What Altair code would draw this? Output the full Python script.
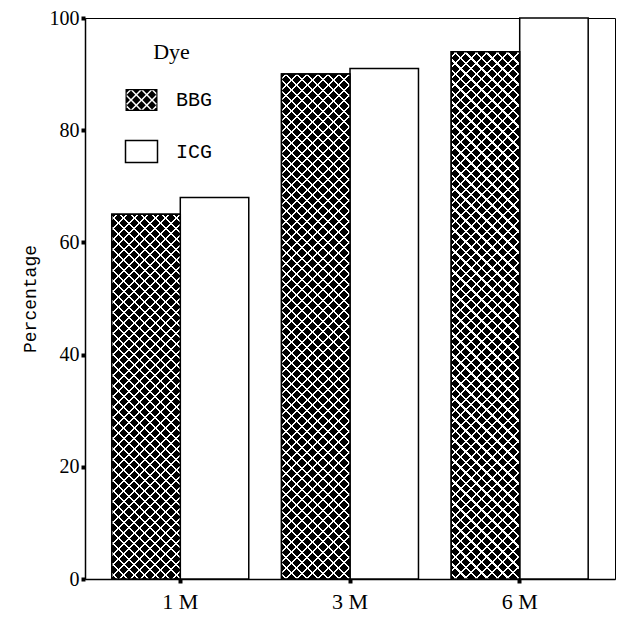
import altair as alt
import pandas as pd

# ---------------- data ----------------
times = ["1 M", "3 M", "6 M"]
dyes = ["BBG", "ICG"]
bbg_values = [65, 90, 94]
icg_values = [68, 91, 100]
y_ticks = [0, 20, 40, 60, 80, 100]

rows = []
for t, b, i in zip(times, bbg_values, icg_values):
    rows.append({"time": t, "dye": "BBG", "value": b})
    rows.append({"time": t, "dye": "ICG", "value": i})
df = pd.DataFrame(rows)

# ---------------- layout ----------------
W, H = 530, 561
PI, PO = 0.193, 0.158
step = W / (len(times) - PI + 2 * PO)
bar_w = step * (1 - PI) / 2

# crosshatch pattern parameters (pixels)
P = 10.5    # period of hatch lines (along x+y)
G = 2.1     # white line thickness (along x+y)
CLEAR = "rgba(255,255,255,0)"


def stripe_stops(length):
    stops = [{"offset": 0, "color": CLEAR}]
    u = P / 2
    while u - G / 2 < length:
        a = max(0.0, (u - G / 2) / length)
        b = min(1.0, (u + G / 2) / length)
        stops += [
            {"offset": round(a, 5), "color": CLEAR},
            {"offset": round(a, 5), "color": "white"},
            {"offset": round(b, 5), "color": "white"},
            {"offset": round(b, 5), "color": CLEAR},
        ]
        u += P
    stops.append({"offset": 1, "color": CLEAR})
    return stops


def hatch_gradient(value, direction):
    w = bar_w
    h = value / 100.0 * H
    t = (w + h) / (w * w + h * h)
    stops = stripe_stops(w + h)
    if direction == "a":
        return {"gradient": "linear", "x1": 0, "y1": 0,
                "x2": w * t, "y2": h * t, "stops": stops}
    return {"gradient": "linear", "x1": 0, "y1": 1,
            "x2": w * t, "y2": 1 - h * t, "stops": stops}


def hatch_fill(direction):
    return {
        "condition": [
            {"test": f"datum.time === '{t}'", "value": hatch_gradient(v, direction)}
            for t, v in zip(times, bbg_values)
        ],
        "value": CLEAR,
    }


# ---------------- legend swatch path (crosshatch) ----------------
def clip_poly(pts, xmin, xmax, ymin, ymax):
    def clip_edge(pts, inside, inter):
        out = []
        n = len(pts)
        for i in range(n):
            cur, prev = pts[i], pts[i - 1]
            if inside(cur):
                if not inside(prev):
                    out.append(inter(prev, cur))
                out.append(cur)
            elif inside(prev):
                out.append(inter(prev, cur))
        return out

    def ix(c):
        def f(p, q):
            tt = (c - p[0]) / (q[0] - p[0])
            return (c, p[1] + tt * (q[1] - p[1]))
        return f

    def iy(c):
        def f(p, q):
            tt = (c - p[1]) / (q[1] - p[1])
            return (p[0] + tt * (q[0] - p[0]), c)
        return f

    pts = clip_edge(pts, lambda p: p[0] >= xmin, ix(xmin))
    if pts:
        pts = clip_edge(pts, lambda p: p[0] <= xmax, ix(xmax))
    if pts:
        pts = clip_edge(pts, lambda p: p[1] >= ymin, iy(ymin))
    if pts:
        pts = clip_edge(pts, lambda p: p[1] <= ymax, iy(ymax))
    return pts


def area(pts):
    s = 0.0
    for i in range(len(pts)):
        x0, y0 = pts[i - 1]
        x1, y1 = pts[i]
        s += x0 * y1 - x1 * y0
    return s / 2


def poly_to_path(pts, scale):
    parts = []
    for j, (x, y) in enumerate(pts):
        parts.append(("M" if j == 0 else "L") + f"{x / scale:.3f},{y / scale:.3f}")
    return "".join(parts) + "Z"


def legend_hatch_path():
    hw, hh = 16.0, 11.0
    scale = 16.0
    paths = []
    for k in range(-8, 9):
        for m in range(-8, 9):
            u0, u1 = k * P + G / 2, (k + 1) * P - G / 2
            v0, v1 = m * P + G / 2, (m + 1) * P - G / 2
            uv = [(u0, v0), (u1, v0), (u1, v1), (u0, v1)]
            xy = [((u + v) / 2, (u - v) / 2) for u, v in uv]
            c = clip_poly(xy, -hw, hw, -hh, hh)
            if len(c) < 3 or abs(area(c)) < 0.05:
                continue
            if area(c) < 0:
                c = c[::-1]
            paths.append(poly_to_path(c, scale))
    outer = [(-hw, -hh), (hw, -hh), (hw, hh), (-hw, hh)]
    inner = [(-hw + 1.2, -hh + 1.2), (hw - 1.2, -hh + 1.2), (hw - 1.2, hh - 1.2), (-hw + 1.2, hh - 1.2)]
    if area(outer) < 0:
        outer = outer[::-1]
    if area(inner) > 0:
        inner = inner[::-1]
    paths.append(poly_to_path(outer, scale))
    paths.append(poly_to_path(inner, scale))
    return "".join(paths)


BBG_PATH = legend_hatch_path()
RECT_PATH = "M-1,-0.6875H1V0.6875H-1Z"

# ---------------- chart ----------------
x_enc = alt.X(
    "time:N",
    sort=times,
    scale=alt.Scale(paddingInner=PI, paddingOuter=PO),
    axis=alt.Axis(
        title=None, labelAngle=0, labelFont="Liberation Serif", labelFontSize=22,
        labelPadding=8, tickSize=4, tickWidth=4, domainWidth=1.5,
    ),
)
xo_enc = alt.XOffset("dye:N", sort=dyes, scale=alt.Scale(domain=dyes, paddingInner=0, paddingOuter=0))
y_enc = alt.Y(
    "value:Q",
    scale=alt.Scale(domain=[0, 100], nice=False),
    axis=alt.Axis(
        values=y_ticks, title="Percentage", titleFont="Liberation Mono", titleFontSize=18,
        titleFontWeight="normal", titleAngle=270, titleX=-55, titleY=H / 2,
        titleAlign="center", titleBaseline="middle",
        labelFont="Liberation Serif", labelFontSize=20, labelPadding=2,
        tickSize=4, tickWidth=4, domainWidth=1.5,
    ),
)

base = alt.Chart(df).encode(x=x_enc, xOffset=xo_enc, y=y_enc)

shape_expr = f"datum.value === 'BBG' ? '{BBG_PATH}' : '{RECT_PATH}'"

bars = base.mark_bar(stroke="black", strokeWidth=1.5).encode(
    fill=alt.Fill(
        "dye:N",
        scale=alt.Scale(domain=dyes, range=["black", "white"]),
        legend=alt.Legend(
            title="Dye", orient="none", legendX=46.5, legendY=23.5,
            titleFont="Liberation Serif", titleFontSize=22, titleFontWeight="normal",
            titleColor="black", titleAnchor="middle", titlePadding=26.5,
            labelFont="Liberation Mono", labelFontSize=20, labelColor="black",
            labelOffset=24.5, rowPadding=25.5, symbolSize=1024,
            symbolType=alt.ExprRef(expr=shape_expr),
            symbolStrokeColor="black",
            symbolStrokeWidth=alt.ExprRef(expr="datum.value === 'BBG' ? 0 : 1.5"),
        ),
    )
)

hatch_a = base.transform_filter("datum.dye === 'BBG'").mark_bar(strokeWidth=0).encode(
    fill=hatch_fill("a")
)
hatch_b = base.transform_filter("datum.dye === 'BBG'").mark_bar(
    stroke="black", strokeWidth=1.5
).encode(fill=hatch_fill("b"))

chart = (
    alt.layer(bars, hatch_a, hatch_b)
    .properties(
        width=W, height=H,
        autosize=alt.AutoSizeParams(type="none"),
        padding={"left": 77, "top": 10, "right": 1, "bottom": 36},
    )
    .configure_view(stroke="black", strokeWidth=1)
    .configure_axis(grid=False, domainColor="black", tickColor="black",
                    labelColor="black", titleColor="black")
)

chart.save("out.html", embed_options={"renderer": "svg", "actions": False})
